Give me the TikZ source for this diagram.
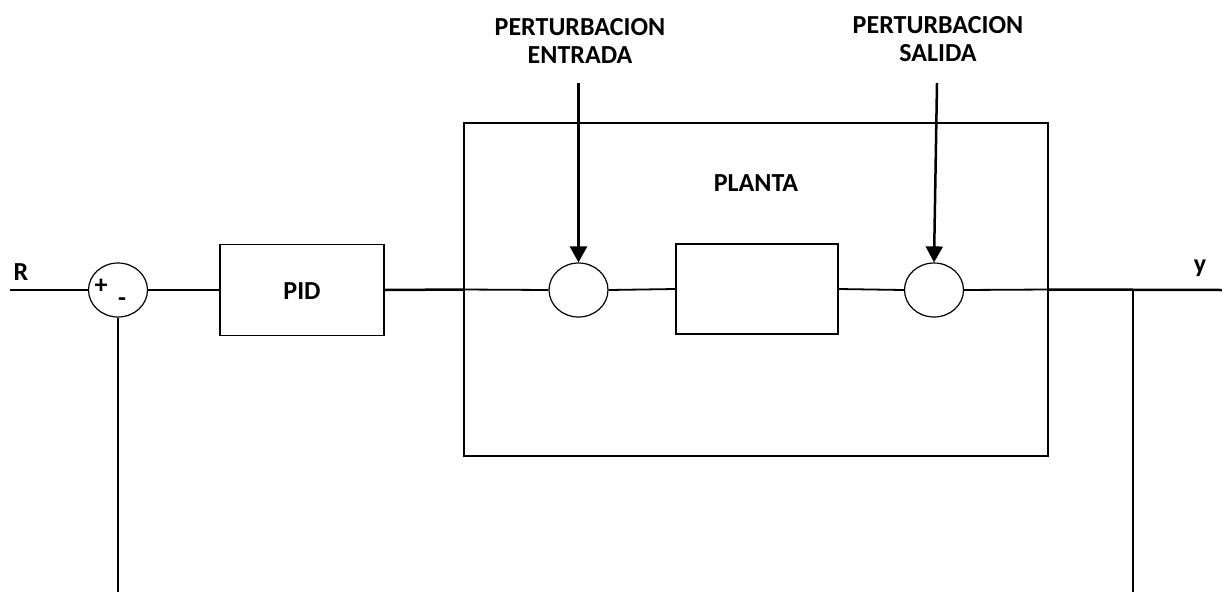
\documentclass[tikz,border=0pt]{standalone}
\usepackage{fontspec}
\setmainfont{Carlito}
\usetikzlibrary{shapes.geometric,arrows.meta}
\begin{document}
\begin{tikzpicture}[x=1pt,y=-1pt,
  lbl/.style={font=\bfseries\fontsize{26}{28}\selectfont, align=center, inner sep=0},
  blockbox/.style={draw, line width=1.2pt, inner sep=0},
  sumnode/.style={draw, ellipse, line width=1.2pt, minimum width=59pt, minimum height=54pt, inner sep=0},
  sig/.style={line width=1.8pt},
  sigthick/.style={line width=2.5pt},
  dist/.style={line width=2.5pt, -{Triangle[width=17pt,length=16pt]}}
]
\useasboundingbox (0,0) rectangle (1222,592);

% summing junction and controller
\node[sumnode] (s0) at (118,290) {};
\node[lbl] at (101,286) {+};
\node[lbl] at (122,302) {-};
\node[blockbox, minimum width=164pt, minimum height=91pt] (pid) at (302,290) {};
\node[lbl] at (302,291) {PID};

% plant enclosure
\node[blockbox, minimum width=584pt, minimum height=333pt] (planta) at (756,289.5) {};
\node[lbl] at (756,183) {PLANTA};

% inner elements of the plant
\node[sumnode] (s1) at (578.5,290) {};
\node[blockbox, minimum width=162pt, minimum height=90pt] (g) at (757,289) {};
\node[sumnode] (s2) at (934,290) {};

% input and output labels
\node[lbl] at (21,272) {R};
\node[lbl] at (1200,268) {y};

% disturbance labels
\node[lbl] (d1) at (580,41) {PERTURBACION\\ENTRADA};
\node[lbl] (d2) at (938,39) {PERTURBACION\\SALIDA};

% free ends
\coordinate (rin) at (10,290);
\coordinate (yout) at (1222,290);
\coordinate (br) at (1133,290);
\coordinate (fbr) at (1133,592);
\coordinate (fbl) at (118,592);
\coordinate (d1top) at (578.5,83);
\coordinate (d2top) at (937,83);

% signal path
\draw[sig] (rin) -- (s0.west);
\draw[sig] (s0.east) -- (pid.west);
\draw[sigthick] (pid.east) -- (planta.west);
\draw[sig] (planta.west) -- (s1.west);
\draw[sig] (s1.east) -- (g.west);
\draw[sig] (g.east) -- (s2.west);
\draw[sig] (s2.east) -- (planta.east);
\draw[sigthick] (planta.east) -- (yout);
\draw[sig] (br) -- (fbr);
\draw[sig] (s0.south) -- (fbl);

% disturbances
\draw[dist] (d1top) -- (s1.north);
\draw[dist] (d2top) -- (s2.north);
\end{tikzpicture}
\end{document}
